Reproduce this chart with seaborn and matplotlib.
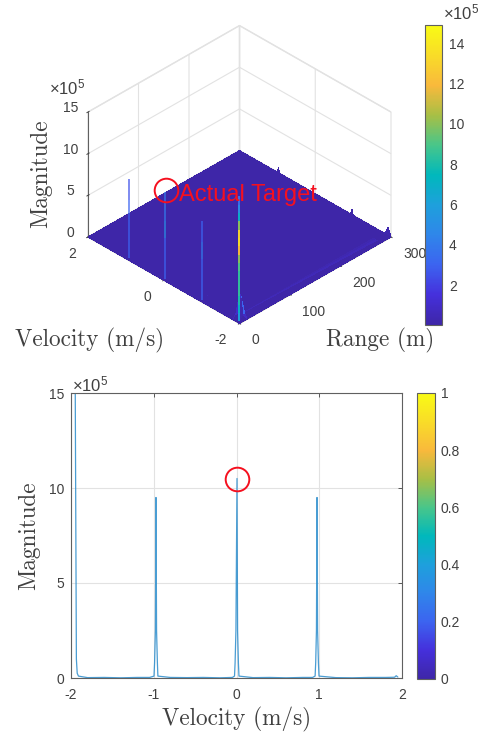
import numpy as np
import pandas as pd
import seaborn as sns
import matplotlib
matplotlib.use("Agg")
import matplotlib.pyplot as plt
from matplotlib.colors import LinearSegmentedColormap, Normalize
from matplotlib.cm import ScalarMappable
from mpl_toolkits.mplot3d import proj3d

# all magnitudes are in units of 1e5
surf_range = [0, 3, 8, 16, 280, 292, 297, 300]
surf_velocity = [-2, -1.98, -1.92, -1.86, -1.8, -1.0, -0.97, -0.94, -0.03, 0.0, 0.03, 0.94, 0.97, 1.0, 2]
surf_magnitude = [
    [0, 0, 0, 0, 0, 0, 0, 0],
    [0, 0.3, 0.8, 0, 0, 0, 0.2, 0.3],
    [0, 1.0, 3.0, 0.5, 0, 0, 0.4, 1.0],
    [0, 0.6, 2.0, 0.3, 0, 0, 0.1, 0.2],
    [0, 0, 0, 0, 0, 0, 0, 0],
    [0, 0, 0, 0, 0, 0, 0, 0],
    [0, 0.7, 0.4, 0, 0, 0, 0.2, 0.6],
    [0, 0, 0, 0, 0, 0, 0, 0],
    [0, 0, 0, 0, 0, 0, 0, 0],
    [0, 0.7, 0.4, 0, 0, 0, 0, 0],
    [0, 0, 0, 0, 0, 0, 0, 0],
    [0, 0, 0, 0, 0, 0, 0, 0],
    [0, 0.7, 0.4, 0, 0, 0, 0.2, 0.6],
    [0, 0, 0, 0, 0, 0, 0, 0],
    [0, 0, 0, 0, 0, 0, 0, 0],
]

corner_levels = [0, 1, 2, 3, 4, 5, 6, 7, 8, 9, 10, 11, 12, 13, 14, 15]
corner_shade = [6, 7, 8, 8.5, 8.5, 8.5, 9, 10, 12, 13.5, 13, 10, 7, 5, 3.5, 3]
spike_velocity = [-0.97, 0.0, 0.97]
spike_levels = [[0, 3, 5, 7, 9.5], [0, 3, 5, 7, 10.5], [0, 3, 5, 7, 9.5]]
spike_shade = [[3, 3, 4, 3, 2.5], [3, 3, 5, 4, 3], [3, 3, 3, 2.5, 2.5]]

vel = [-1.95, -1.935, -1.925, -1.91, -1.8, -1.6, -1.4, -1.2, -1.05, -0.997, -0.99, -0.98, -0.973, -0.966, -0.956, -0.95,
       -0.8, -0.6, -0.4, -0.2, -0.05, -0.024, -0.017, -0.007, 0.006, 0.013, 0.023, 0.03,
       0.2, 0.4, 0.6, 0.8, 0.92, 0.95, 0.957, 0.966, 0.973, 0.98, 0.99, 0.997, 1.2, 1.4, 1.6, 1.8, 1.91, 1.93, 1.95]
mag = [16.5, 1.0, 0.25, 0.1, 0.02, 0.03, 0.01, 0.03, 0.03, 0.1, 0.8, 2.5, 9.5, 2.5, 0.8, 0.1,
       0.03, 0.02, 0.03, 0.01, 0.03, 0.1, 0.8, 2.5, 10.5, 2.5, 0.8, 0.1,
       0.02, 0.03, 0.01, 0.03, 0.03, 0.1, 0.8, 2.5, 9.5, 2.5, 0.8, 0.1, 0.02, 0.01, 0.03, 0.03, 0.04, 0.12, 0.05]

x_ticks = [-2, -1, 0, 1, 2]
x_ticklabels = ['-2', '-1', '0', '1', '2']
y_ticks = [0, 5, 10, 15]
range_ticks = [0, 100, 200, 300]
velocity_ticks = [-2, 0, 2]
velocity_ticklabels = ['-2', '0', '2']
cbar_ticks_top = [2, 4, 6, 8, 10, 12, 14]
cbar_ticks_bottom = [0, 0.2, 0.4, 0.6, 0.8, 1]
cbar_labels_bottom = ['0', '0.2', '0.4', '0.6', '0.8', '1']

sns.set_style("white")
plt.rcParams['font.family'] = ['Liberation Sans', 'DejaVu Sans']
plt.rcParams['font.size'] = 10
plt.rcParams['text.color'] = '#404040'
plt.rcParams['xtick.color'] = '#404040'
plt.rcParams['ytick.color'] = '#404040'
plt.rcParams['mathtext.default'] = 'regular'

parula = LinearSegmentedColormap.from_list("parula", [
    "#3e26a8", "#4530dc", "#3c64f0", "#2f86ea", "#1ea0dc", "#00b8bc",
    "#48c68a", "#a8bf45", "#f9b93c", "#f9dc28", "#f9fb15"])
RED = '#f5101f'

W, H = 482, 732
fig = plt.figure(figsize=(W / 100, H / 100), dpi=100)


def px_box(left, top, right, bottom):
    return [left / W, 1 - bottom / H, (right - left) / W, (bottom - top) / H]


# top panel
ax3 = fig.add_axes([0, 0.5, 1, 0.5], projection='3d', computed_zorder=False)
ax3.set_proj_type('ortho')
ax3.view_init(elev=34.8, azim=-135)
ax3.set_box_aspect((214, 214, 152))
ax3.patch.set_alpha(0)

RR, VV = np.meshgrid(surf_range, surf_velocity)
ZZ = np.array(surf_magnitude)
norm_top = Normalize(0.02, 14.9)
ax3.plot_surface(RR, VV, ZZ, facecolors=parula(norm_top(ZZ)), shade=False, linewidth=0,
                 antialiased=False, rstride=1, cstride=1, zorder=1)

for i in range(len(corner_levels) - 1):
    ax3.plot([3, 3], [-1.94, -1.94], corner_levels[i:i + 2], lw=1.4,
             color=parula(norm_top(corner_shade[i])), zorder=3, solid_capstyle='butt')
for v, lev, shade in zip(spike_velocity, spike_levels, spike_shade):
    for i in range(len(lev) - 1):
        ax3.plot([3, 3], [v, v], lev[i:i + 2], lw=1.1, alpha=0.85,
                 color=parula(norm_top(shade[i])), zorder=3, solid_capstyle='butt')

ax3.plot([5], [0.0], [10.7], 'o', ms=17, mfc='none', mec=RED, mew=1.4, zorder=4)

ax3.set_xlim(0, 300, view_margin=0)
ax3.set_ylim(-2, 2, view_margin=0)
ax3.set_zlim(0, 15, view_margin=0)
ax3.set_xticks(range_ticks)
ax3.set_xticklabels([str(t) for t in range_ticks], ha='left', va='center')
ax3.set_yticks(velocity_ticks)
ax3.set_yticklabels(velocity_ticklabels, ha='right', va='center')
ax3.set_zticks(y_ticks)
ax3.set_zticklabels([str(t) for t in y_ticks], va='baseline')
ax3.tick_params(axis='x', labelsize=10, pad=3)
ax3.tick_params(axis='y', labelsize=10, pad=3)
ax3.tick_params(axis='z', labelsize=10, pad=0)
for axis in (ax3.xaxis, ax3.yaxis, ax3.zaxis):
    axis.set_pane_color((1, 1, 1, 1))
    axis.pane.set_edgecolor('#e2e2e2')
    axis.line.set_color('#606060')
    axis.line.set_linewidth(0.8)
    axis._axinfo['grid'].update(color='#e2e2e2', linewidth=0.8)
    axis._axinfo['tick'].update(inward_factor=0.1, outward_factor=0.1, linewidth={True: 0.7, False: 0.5})
    axis._axinfo['tick']['color'] = '#606060'

# line up the box with the reference floor corners
zoom = 1.0
for _ in range(3):
    fig.canvas.draw()
    M = ax3.get_proj()
    lx, ly, _z = proj3d.proj_transform(0, 2, 0, M)
    rx, ry, _z = proj3d.proj_transform(300, -2, 0, M)
    p_l = ax3.transData.transform((lx, ly))
    p_r = ax3.transData.transform((rx, ry))
    zoom *= (391 - 88) / (p_r[0] - p_l[0])
    ax3.set_box_aspect((214, 214, 152), zoom=zoom)
    fig.canvas.draw()
    M = ax3.get_proj()
    lx, ly, _z = proj3d.proj_transform(0, 2, 0, M)
    p_l = ax3.transData.transform((lx, ly))
    pos = ax3.get_position()
    ax3.set_position([pos.x0 + (88 - p_l[0]) / W, pos.y0 + ((H - 237) - p_l[1]) / H, pos.width, pos.height])

cax_top = fig.add_axes(px_box(425, 25, 442, 325))
cb = fig.colorbar(ScalarMappable(norm_top, parula), cax=cax_top, ticks=cbar_ticks_top)
cb.ax.tick_params(direction='in', length=3, width=0.6, labelsize=10, pad=5, color='#404040')
cb.outline.set_edgecolor('#606060')
cb.outline.set_linewidth(0.8)

serif = {'family': 'cmr10', 'color': '#404040'}
fig.text(90 / W, 1 - 340 / H, 'Velocity (m/s)', ha='center', va='center', fontsize=16.7, **serif)
fig.text(380 / W, 1 - 340 / H, 'Range (m)', ha='center', va='center', fontsize=16.7, **serif)
fig.text(41 / W, 1 - 174 / H, 'Magnitude', ha='center', va='center', rotation=90, fontsize=16.7, **serif)
fig.text(67 / W, 1 - 87 / H, r'$\times 10^5$', ha='center', va='center', fontsize=12)
fig.text(461 / W, 1 - 12 / H, r'$\times 10^5$', ha='center', va='center', fontsize=12)
fig.text(179 / W, 1 - 195 / H, 'Actual Target', ha='left', va='center', fontsize=17, color=RED)

# bottom panel
ax = fig.add_axes(px_box(71, 393, 402, 678))
data_line = pd.DataFrame({"Velocity": vel, "Magnitude": mag})
sns.lineplot(x="Velocity", y="Magnitude", data=data_line, estimator=None, sort=False,
             color="#2a8ccc", lw=0.9, alpha=0.85, ax=ax)
ax.plot([0.0], [10.5], 'o', ms=17, mfc='none', mec=RED, mew=1.4)
ax.set_xlim(-2, 2)
ax.set_ylim(0, 15)
ax.set_xticks(x_ticks)
ax.set_xticklabels(x_ticklabels)
ax.set_yticks(y_ticks)
ax.set_xlabel('Velocity (m/s)', fontsize=16.7, labelpad=4, **serif)
ax.set_ylabel('Magnitude', fontsize=16.7, labelpad=6, **serif)
ax.grid(True, color='#e2e2e2', lw=0.8)
ax.set_axisbelow(True)
ax.tick_params(direction='in', length=3, width=0.6, top=True, right=True, labelsize=10, pad=7, color='#404040')
ax.tick_params(axis='y', pad=5)
for s in ax.spines.values():
    s.set_color('#606060')
    s.set_linewidth(0.8)
fig.text(90 / W, 1 - 384 / H, r'$\times 10^5$', ha='center', va='center', fontsize=12)

cax_bot = fig.add_axes(px_box(417, 393, 435, 679))
cb2 = fig.colorbar(ScalarMappable(Normalize(0, 1), parula), cax=cax_bot, ticks=cbar_ticks_bottom)
cb2.ax.set_yticklabels(cbar_labels_bottom)
cb2.ax.tick_params(direction='in', length=3, width=0.6, labelsize=10, pad=4, color='#404040')
cb2.outline.set_edgecolor('#606060')
cb2.outline.set_linewidth(0.8)

fig.savefig("out.png", dpi=100)
